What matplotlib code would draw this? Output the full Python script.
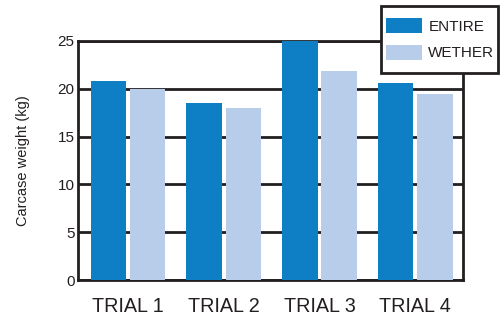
import numpy as np
import matplotlib
import matplotlib.pyplot as plt
from matplotlib.patches import Rectangle

matplotlib.use("Agg")
plt.rcParams["font.family"] = ["Liberation Sans", "DejaVu Sans"]

TRIALS = ["TRIAL 1", "TRIAL 2", "TRIAL 3", "TRIAL 4"]
ENTIRE = [20.8, 18.5, 25.0, 20.6]
WETHER = [20.0, 18.0, 21.9, 19.5]
Y_TICKS = [0, 5, 10, 15, 20, 25]

ENTIRE_COLOR = "#0E7FC5"
WETHER_COLOR = "#B8CDEA"
INK = "#231f20"

W, H = 504, 315
fig = plt.figure(figsize=(W / 100, H / 100), dpi=100)
ax = fig.add_axes([0.155, 0.111, 0.764, 0.759])

x = np.arange(len(TRIALS))
width = 0.37
ax.bar(x - 0.205, ENTIRE, width, color=ENTIRE_COLOR, label="ENTIRE", zorder=3)
ax.bar(x + 0.205, WETHER, width, color=WETHER_COLOR, label="WETHER", zorder=3)

ax.set_xlim(-0.52, 3.5)
ax.set_ylim(0, 25)
ax.set_yticks(Y_TICKS)
ax.set_xticks(x)
ax.set_xticklabels(TRIALS, fontsize=14.2, color=INK)
ax.tick_params(axis="both", length=0, colors=INK)
ax.tick_params(axis="y", labelsize=11, pad=2.5)
ax.tick_params(axis="x", pad=12)
ax.set_ylabel("Carcase weight (kg)", fontsize=10.5, color=INK, labelpad=20)

ax.yaxis.grid(True, color=INK, linewidth=2, zorder=1)
ax.set_axisbelow(True)
for s in ax.spines.values():
    s.set_linewidth(2)
    s.set_color(INK)

# legend box: taller padding than wide, so frame drawn separately
fig.add_artist(Rectangle((381 / W, 1 - 73 / H), 117 / W, 67 / H,
                         transform=fig.transFigure, facecolor="white",
                         edgecolor=INK, linewidth=2, zorder=4))
leg = fig.legend(loc="upper left", bbox_to_anchor=(381 / W, 1 - 13 / H), fontsize=11,
                 frameon=False, handlelength=2.35, handleheight=1.1, borderpad=0.35,
                 labelspacing=0.72, handletextpad=0.4, borderaxespad=0)
leg.set_zorder(5)
for t in leg.get_texts():
    t.set_color(INK)

fig.savefig("out.png", dpi=100)
